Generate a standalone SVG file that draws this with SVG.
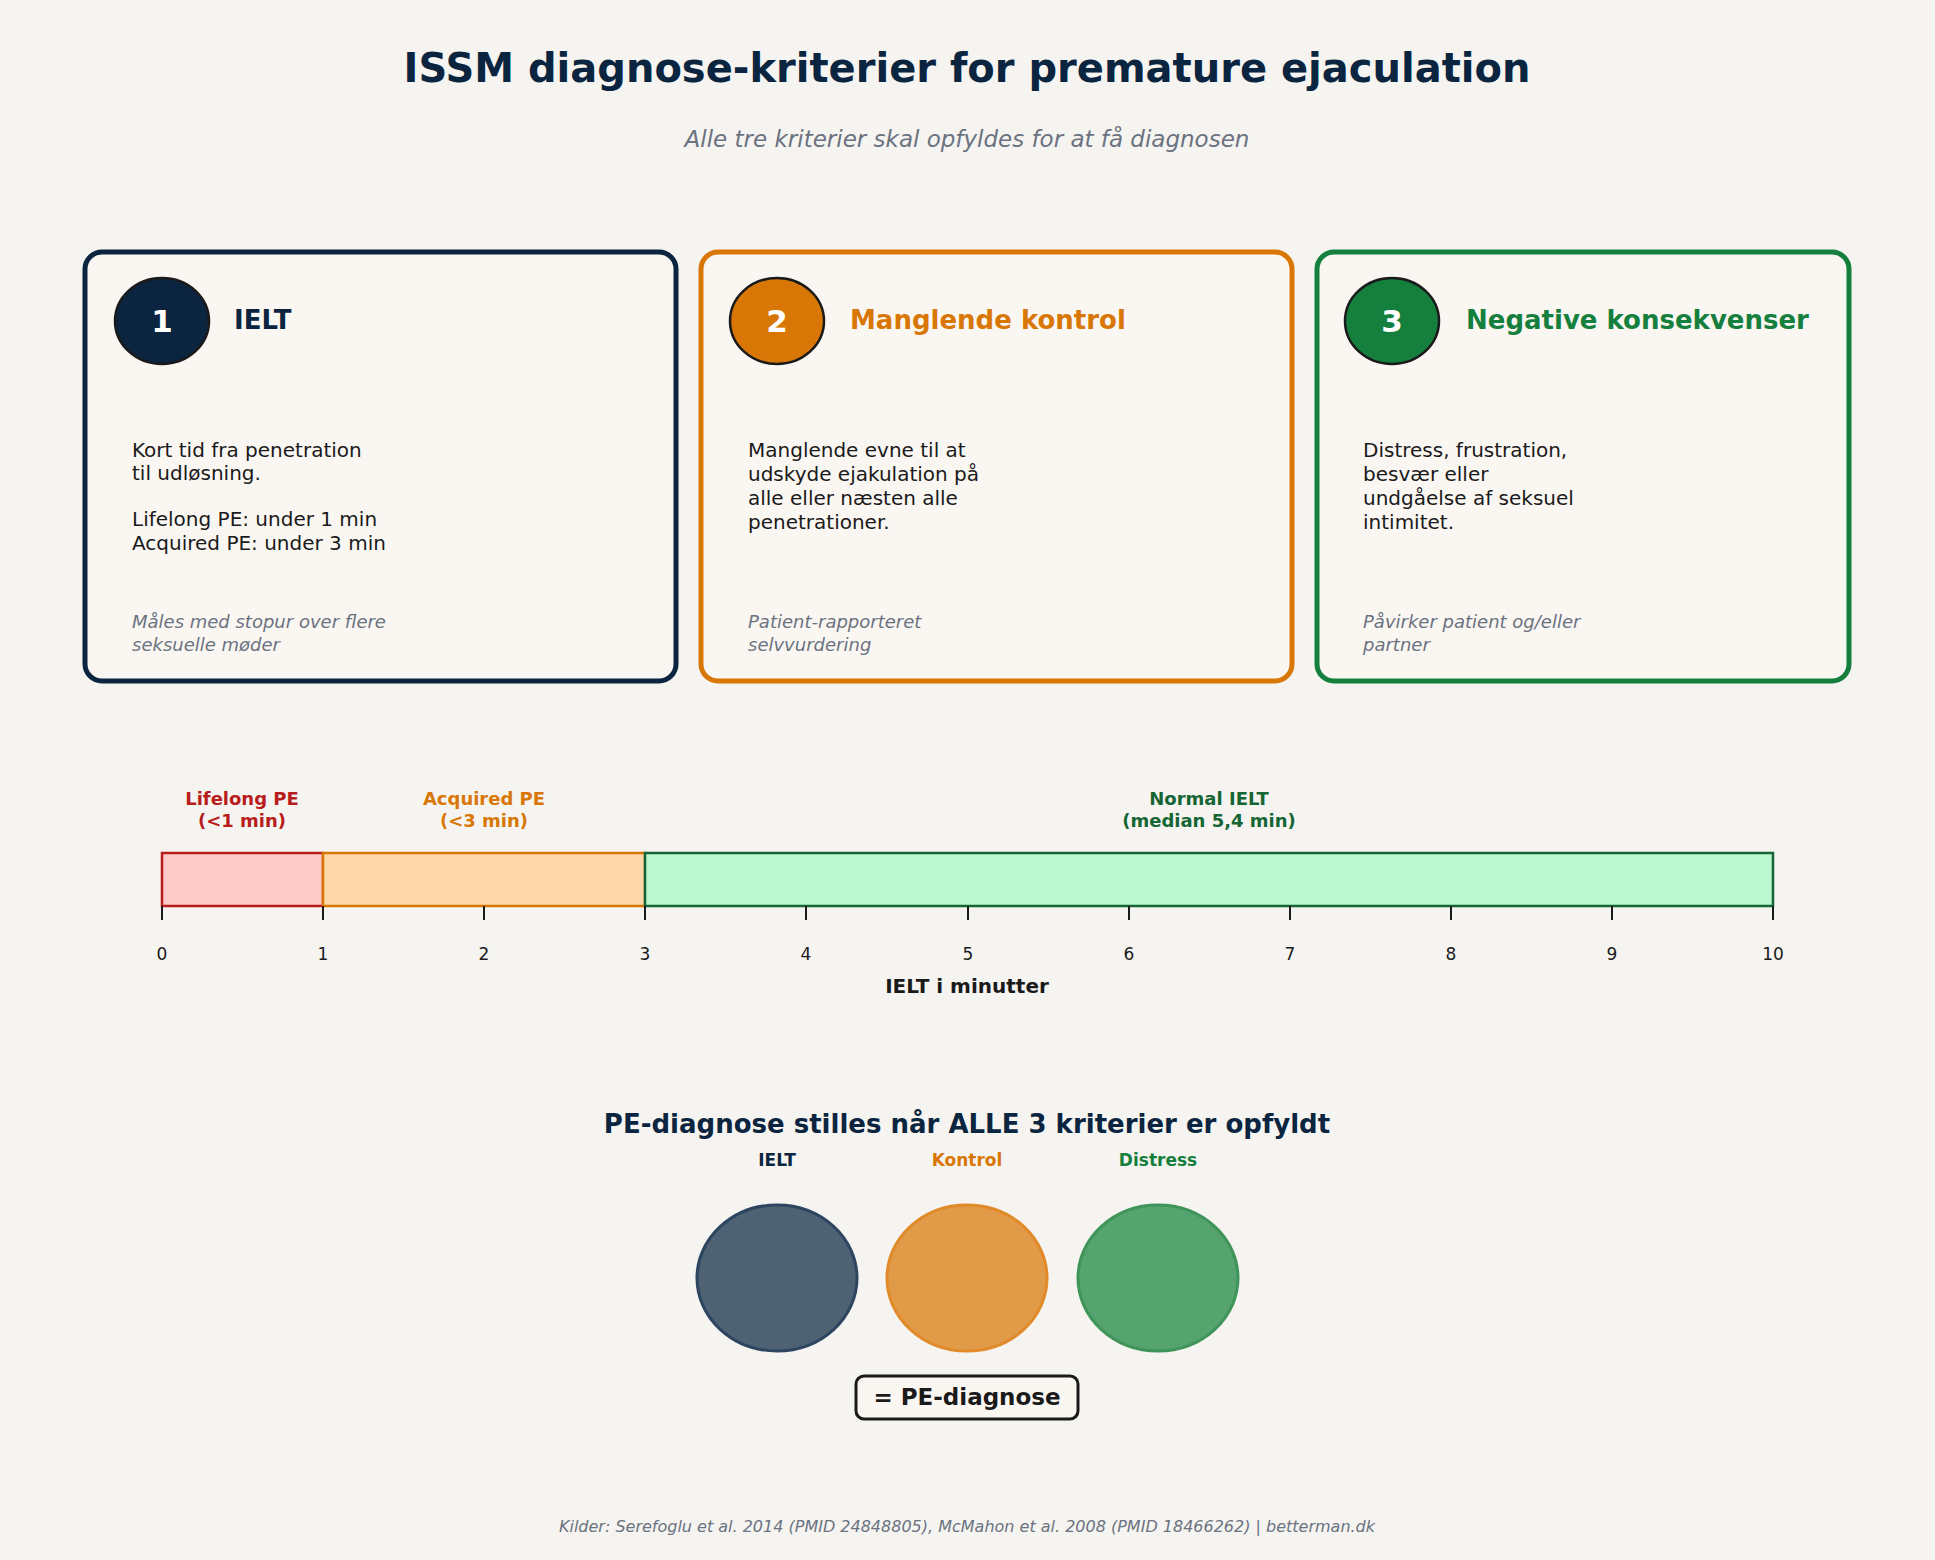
<svg xmlns="http://www.w3.org/2000/svg" width="1935" height="1560" viewBox="0 0 1935 1560">
<style>
text{font-family:"DejaVu Sans",sans-serif}
.card{fill:#faf7f3;stroke-width:5}
.num{fill:#fff;font-size:31px;font-weight:bold;text-anchor:middle}
.hd{font-size:26px;font-weight:bold}
.body{font-size:20px;fill:#1a1a1a}
.note{font-size:18px;font-style:italic;fill:#6b7280}
.tick{stroke:#1a1a1a;stroke-width:2}
.tl{font-size:17px;fill:#1a1a1a;text-anchor:middle}
.lab{font-size:18px;font-weight:bold;text-anchor:middle}
.sl{font-size:17px;font-weight:bold;text-anchor:middle}
</style>
<rect width="1935" height="1560" fill="#f5f4f1"/>
<text x="967" y="82" text-anchor="middle" font-size="40" font-weight="bold" fill="#0b2540">ISSM diagnose-kriterier for premature ejaculation</text>
<text x="967" y="147" text-anchor="middle" font-size="23" font-style="italic" fill="#6b7280">Alle tre kriterier skal opfyldes for at få diagnosen</text>

<g id="card1">
<rect class="card" x="85" y="252" width="591" height="429" rx="17" stroke="#0b2540"/>
<ellipse cx="162" cy="321" rx="47" ry="43" fill="#0b2540" stroke="#1a1a1a" stroke-width="2.5"/>
<text class="num" x="162" y="332">1</text>
<text class="hd" x="234" y="329" fill="#0b2540">IELT</text>
<text class="body" x="132" y="457">Kort tid fra penetration</text>
<text class="body" x="132" y="480">til udløsning.</text>
<text class="body" x="132" y="526">Lifelong PE: under 1 min</text>
<text class="body" x="132" y="550">Acquired PE: under 3 min</text>
<text class="note" x="132" y="628">Måles med stopur over flere</text>
<text class="note" x="132" y="651">seksuelle møder</text>
</g>
<g id="card2">
<rect class="card" x="701" y="252" width="591" height="429" rx="17" stroke="#d97706"/>
<ellipse cx="777" cy="321" rx="47" ry="43" fill="#d97706" stroke="#1a1a1a" stroke-width="2.5"/>
<text class="num" x="777" y="332">2</text>
<text class="hd" x="850" y="329" fill="#d97706">Manglende kontrol</text>
<text class="body" x="748" y="457">Manglende evne til at</text>
<text class="body" x="748" y="481">udskyde ejakulation på</text>
<text class="body" x="748" y="505">alle eller næsten alle</text>
<text class="body" x="748" y="529">penetrationer.</text>
<text class="note" x="748" y="628">Patient-rapporteret</text>
<text class="note" x="748" y="651">selvvurdering</text>
</g>
<g id="card3">
<rect class="card" x="1317" y="252" width="532" height="429" rx="17" stroke="#15803d"/>
<ellipse cx="1392" cy="321" rx="47" ry="43" fill="#15803d" stroke="#1a1a1a" stroke-width="2.5"/>
<text class="num" x="1392" y="332">3</text>
<text class="hd" x="1466" y="329" fill="#15803d">Negative konsekvenser</text>
<text class="body" x="1363" y="457">Distress, frustration,</text>
<text class="body" x="1363" y="481">besvær eller</text>
<text class="body" x="1363" y="505">undgåelse af seksuel</text>
<text class="body" x="1363" y="529">intimitet.</text>
<text class="note" x="1363" y="628">Påvirker patient og/eller</text>
<text class="note" x="1363" y="651">partner</text>
</g>

<g id="timeline">
<rect x="162" y="853" width="161" height="53" fill="#fecaca" stroke="#b91c1c" stroke-width="2.5"/>
<rect x="323" y="853" width="322" height="53" fill="#fed7aa" stroke="#d97706" stroke-width="2.5"/>
<rect x="645" y="853" width="1128" height="53" fill="#bbf7d0" stroke="#166534" stroke-width="2.5"/>
<text class="lab" x="242" y="805" fill="#b91c1c">Lifelong PE</text>
<text class="lab" x="242" y="827" fill="#b91c1c">(&lt;1 min)</text>
<text class="lab" x="484" y="805" fill="#d97706">Acquired PE</text>
<text class="lab" x="484" y="827" fill="#d97706">(&lt;3 min)</text>
<text class="lab" x="1209" y="805" fill="#166534">Normal IELT</text>
<text class="lab" x="1209" y="827" fill="#166534">(median 5,4 min)</text>
<g class="tick">
<line x1="162" y1="906" x2="162" y2="920"/><line x1="323" y1="906" x2="323" y2="920"/><line x1="484" y1="906" x2="484" y2="920"/><line x1="645" y1="906" x2="645" y2="920"/><line x1="806" y1="906" x2="806" y2="920"/><line x1="968" y1="906" x2="968" y2="920"/><line x1="1129" y1="906" x2="1129" y2="920"/><line x1="1290" y1="906" x2="1290" y2="920"/><line x1="1451" y1="906" x2="1451" y2="920"/><line x1="1612" y1="906" x2="1612" y2="920"/><line x1="1773" y1="906" x2="1773" y2="920"/>
</g>
<text class="tl" x="162" y="960">0</text><text class="tl" x="323" y="960">1</text><text class="tl" x="484" y="960">2</text><text class="tl" x="645" y="960">3</text><text class="tl" x="806" y="960">4</text><text class="tl" x="968" y="960">5</text><text class="tl" x="1129" y="960">6</text><text class="tl" x="1290" y="960">7</text><text class="tl" x="1451" y="960">8</text><text class="tl" x="1612" y="960">9</text><text class="tl" x="1773" y="960">10</text>
<text x="967" y="993" text-anchor="middle" font-size="20" font-weight="bold" fill="#1a1a1a">IELT i minutter</text>
</g>

<g id="summary">
<text x="967" y="1133" text-anchor="middle" font-size="26" font-weight="bold" fill="#0b2540">PE-diagnose stilles når ALLE 3 kriterier er opfyldt</text>
<text class="sl" x="777" y="1166" fill="#0b2540">IELT</text>
<text class="sl" x="967" y="1166" fill="#d97706">Kontrol</text>
<text class="sl" x="1158" y="1166" fill="#15803d">Distress</text>
<ellipse id="c-ielt" cx="777" cy="1278" rx="80" ry="73" fill="#4e6274" stroke="#2e4560" stroke-width="3"/>
<ellipse id="c-kontrol" cx="967" cy="1278" rx="80" ry="73" fill="#e09a48" stroke="#e08a2a" stroke-width="3"/>
<ellipse id="c-distress" cx="1158" cy="1278" rx="80" ry="73" fill="#55a36f" stroke="#3f9459" stroke-width="3"/>
<rect x="856" y="1376" width="222" height="43" rx="8" fill="#faf7f3" stroke="#1a1a1a" stroke-width="3"/>
<text x="967" y="1405" text-anchor="middle" font-size="23" font-weight="bold" fill="#1a1a1a">= PE-diagnose</text>
</g>
<text x="967" y="1532" text-anchor="middle" font-size="16" font-style="italic" fill="#6b7280">Kilder: Serefoglu et al. 2014 (PMID 24848805), McMahon et al. 2008 (PMID 18466262) | betterman.dk</text>
</svg>
